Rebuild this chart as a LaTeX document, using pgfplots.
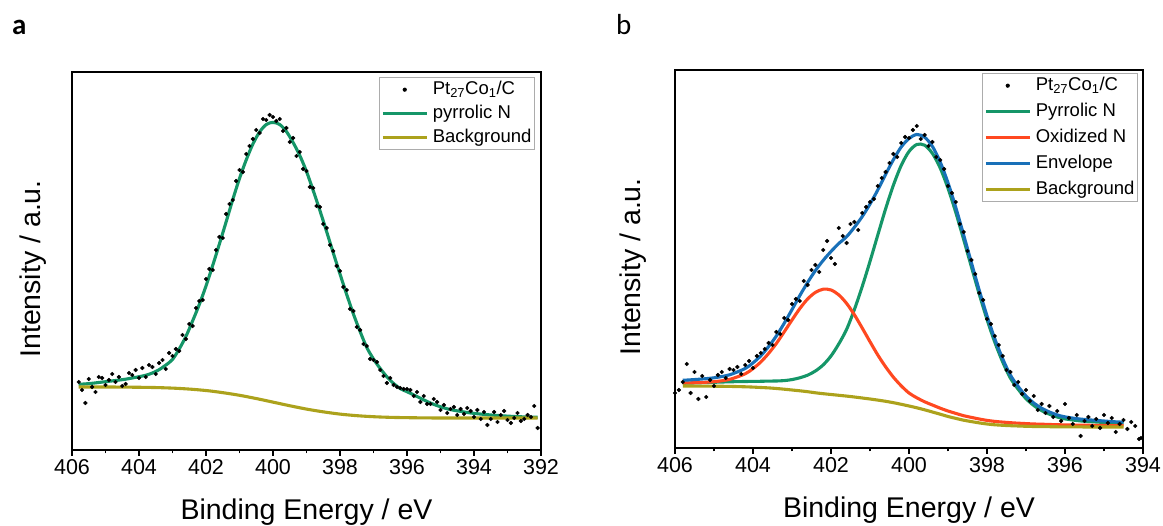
\documentclass[border=0pt]{standalone}
\usepackage{fontspec}
\setmainfont{Liberation Sans}
\newfontfamily\carlito{Carlito}
\usepackage{pgfplots}
\pgfplotsset{compat=1.18}
\definecolor{pgreen}{RGB}{21,150,104}
\definecolor{pred}{RGB}{255,72,32}
\definecolor{pblue}{RGB}{24,112,184}
\definecolor{polive}{RGB}{172,162,28}
\pgfplotsset{
  xps/.style={
    scale only axis, x dir=reverse, ymin=0, ymax=378,
    ytick=\empty, xtick distance=2, minor x tick num=1,
    tick align=outside, xtick pos=bottom,
    major tick length=6pt, minor tick length=3.5pt,
    every tick/.style={black, line width=1.2pt},
    axis line style={line width=1.3pt},
    /pgf/number format/assume math mode=true,
    xticklabel style={font=\fontsize{21.5}{24}\selectfont},
    label style={font=\fontsize{28.5}{32}\selectfont},
    xlabel={Binding Energy / eV},
    ylabel={Intensity / a.u.},
    legend cell align=left,
  },
  lin/.style={line width=3.1pt, smooth, legend image code/.code={\draw[##1] (0pt,0pt) -- (44pt,0pt);}},
  dots/.style={only marks, mark=*, mark size=1.9pt, black},
  dotleg/.style={legend image code/.code={\path[draw=none,fill=none] (0pt,-1pt) rectangle (44pt,1pt); \fill[black,draw=none] (22pt,0pt) circle (2.1pt);}},
  leg/.style={legend style={at={(1,1)}, anchor=north east, draw=gray!65, line width=0.9pt, fill=white,
     font=\fontsize{18.5}{22}\selectfont, inner xsep=1.5pt, inner ysep=2pt, column sep=3pt, row sep=#1,
     nodes={inner sep=1.5pt, text height=13.5pt, text depth=4pt}}},
}
\begin{document}
\begin{tikzpicture}
\path[use as bounding box] (0pt,0pt) rectangle (1163pt,526pt);
\node[anchor=base west, font=\carlito\bfseries\fontsize{29}{32}\selectfont, inner sep=0pt] at (12pt,491pt) {a};
\node[anchor=base west, font=\carlito\fontsize{29}{32}\selectfont, inner sep=0pt] at (616pt,491pt) {b};
% ---------------- panel a
\begin{axis}[xps, leg=3.5pt, at={(72pt,76pt)}, anchor=south west, width=469pt, height=378pt,
  xmin=392, xmax=406,
  legend style={xshift=-6pt, yshift=-5pt},
  xlabel style={at={(axis description cs:0.5,-0.1839)}, anchor=base},
  ylabel style={at={(axis description cs:-0.0832,0.479)}, anchor=center}]
\addlegendimage{dotleg}
\addlegendentry{Pt\textsubscript{27}Co\textsubscript{1}/C}
\addplot[lin, color=pgreen] coordinates {(405.8,65.7)(405.6,66.1)(405.4,66.7)(405.2,67.5)(405.0,68.3)(404.8,69.1)(404.6,69.9)(404.4,70.8)(404.2,72.0)(404.0,73.3)(403.8,74.7)(403.6,77.0)(403.4,80.3)(403.2,84.9)(403.0,90.5)(402.8,101)(402.6,113.5)(402.4,129)(402.2,145.5)(402.0,164)(401.8,184.5)(401.6,206)(401.4,228)(401.2,250.5)(401.0,271.5)(400.8,290)(400.6,306)(400.4,318)(400.2,325.5)(400.0,327.6)(399.8,325.5)(399.6,318.5)(399.4,307.5)(399.2,294.5)(399.0,278.5)(398.8,259.5)(398.6,239.5)(398.4,218.5)(398.2,197)(398.0,176)(397.8,155.5)(397.6,136)(397.4,118.5)(397.2,102.5)(397.0,91)(396.8,81.5)(396.6,73.2)(396.4,66.5)(396.2,61.4)(396.0,58.3)(395.8,55.1)(395.6,51.8)(395.4,48.5)(395.2,45.6)(395.0,43.2)(394.8,41.2)(394.6,39.7)(394.4,38.6)(394.2,37.5)(394.0,36.6)(393.6,35.3)(393.2,34.3)(392.8,33.5)(392.4,33.0)(392.1,32.7)};
\addlegendentry{pyrrolic N}
\addplot[lin, color=polive] coordinates {(405.8,63)(404.95,63)(403.95,62.7)(403.45,62.4)(402.95,61.8)(402.45,60.8)(401.95,59.3)(401.45,57.1)(400.95,54.4)(400.45,51.1)(399.95,47.5)(399.45,43.9)(398.95,40.6)(398.45,37.9)(397.95,35.7)(397.45,34.2)(396.95,33.2)(396.45,32.6)(395.95,32.3)(395.45,32.1)(394.95,32.0)(393.5,32.0)(392.1,32.0)};
\addlegendentry{Background}
\addplot[dots, forget plot] coordinates {(405.8,68)(405.7,60)(405.6,47)(405.5,71)(405.4,63)(405.3,58)(405.2,73)(405.1,72)(405.0,65)(404.9,70)(404.8,76)(404.7,68)(404.6,73)(404.5,64)(404.4,66)(404.3,77)(404.2,75)(404.1,80)(404.0,72)(403.9,82)(403.8,73)(403.7,85)(403.6,83)(403.5,76)(403.4,87)(403.3,90)(403.2,81)(403.1,97)(403.0,94)(402.9,101)(402.8,99)(402.7,115)(402.6,111)(402.5,126)(402.4,124)(402.3,142)(402.2,149)(402.1,150)(402.0,171)(401.9,181)(401.8,180)(401.7,200)(401.6,213)(401.5,212)(401.4,236)(401.3,246)(401.2,250)(401.1,269)(401.0,280)(400.9,278)(400.8,296)(400.7,304)(400.6,311)(400.5,320)(400.4,317)(400.3,331)(400.2,330)(400.1,335)(400.0,333)(399.9,329)(399.8,331)(399.7,319)(399.6,322)(399.5,308)(399.4,312)(399.3,294)(399.2,298)(399.1,281)(399.0,279)(398.9,263)(398.8,262)(398.7,244)(398.6,243)(398.5,226)(398.4,222)(398.3,205)(398.2,199)(398.1,184)(398.0,179)(397.9,163)(397.8,160)(397.7,141)(397.6,139)(397.5,123)(397.4,120)(397.3,106)(397.2,104)(397.1,91)(397.0,90)(396.9,88)(396.8,80)(396.7,74)(396.6,67)(396.5,72)(396.4,65)(396.3,63)(396.2,62)(396.1,61)(396.0,61)(395.9,60)(395.8,54)(395.7,58)(395.6,48)(395.5,54)(395.4,46)(395.3,46)(395.2,51)(395.1,48)(395.0,40)(394.9,45)(394.8,37)(394.7,41)(394.6,43)(394.5,35)(394.4,41)(394.3,36)(394.2,42)(394.1,39)(394.0,33)(393.9,40)(393.8,31)(393.7,38)(393.6,25)(393.5,31)(393.4,38)(393.3,28)(393.2,35)(393.1,39)(393.0,30)(392.9,27)(392.8,32)(392.7,37)(392.6,29)(392.5,31)(392.4,35)(392.3,33)(392.2,44)(392.1,22)};
\end{axis}
% ---------------- panel b
\begin{axis}[xps, leg=5.5pt, at={(675pt,78pt)}, anchor=south west, width=468pt, height=378pt,
  xmin=394, xmax=406,
  legend style={xshift=-5pt, yshift=-3pt},
  xlabel style={at={(axis description cs:0.5,-0.1839)}, anchor=base},
  ylabel style={at={(axis description cs:-0.0897,0.479)}, anchor=center}]
\addlegendimage{dotleg}
\addlegendentry{Pt\textsubscript{27}Co\textsubscript{1}/C}
\addplot[lin, color=pgreen] coordinates {(405.8,64.7)(405.4,65.2)(405.0,65.7)(404.6,66.2)(404.2,66.5)(404.0,66.6)(403.8,66.7)(403.6,66.9)(403.4,67.0)(403.2,67.4)(403.0,68.4)(402.8,70.2)(402.6,72.8)(402.4,77.0)(402.2,83.1)(402.0,92.0)(401.8,104.1)(401.6,118.6)(401.4,138.5)(401.2,161.4)(401.0,186.6)(400.8,213.0)(400.6,239.1)(400.4,262.8)(400.2,282.5)(400.0,296.5)(399.8,303.5)(399.6,302.8)(399.4,294.6)(399.2,280.0)(399.0,259.7)(398.8,235.5)(398.6,208.7)(398.4,181.2)(398.2,154.0)(398.0,128.6)(397.8,105.8)(397.6,86.2)(397.4,69.9)(397.2,58.7)(397.0,49.3)(396.8,42.5)(396.6,37.4)(396.4,33.8)(396.2,31.0)(396.0,29.1)(395.6,27.05)(395.2,26.0)(394.8,25.0)(394.5,24.5)};
\addlegendentry{Pyrrolic N}
\addplot[lin, color=pred] coordinates {(405.8,65.0)(405.4,65.4)(405.0,66.3)(404.6,68.6)(404.2,74.2)(404.0,79.4)(403.8,86.0)(403.6,94.6)(403.4,104.6)(403.2,116.1)(403.0,128.0)(402.8,139.4)(402.6,149.0)(402.4,155.6)(402.2,158.8)(402.0,158.0)(401.8,153.1)(401.6,144.6)(401.4,133.2)(401.2,120.0)(401.0,106.3)(400.8,93.0)(400.6,81.2)(400.4,70.8)(400.2,62.2)(400.0,55.0)(399.8,50.2)(399.6,46.2)(399.4,43.0)(399.2,39.8)(399.0,37.0)(398.8,34.6)(398.6,32.3)(398.4,30.6)(398.2,29.0)(398.0,27.6)(397.8,26.6)(397.6,25.9)(397.4,25.3)(397.2,24.8)(397.0,24.4)(396.8,24.0)(396.6,23.8)(396.4,23.5)(396.2,23.3)(396.0,23.1)(395.6,22.85)(395.2,22.6)(394.8,22.4)(394.5,22.3)};
\addlegendentry{Oxidized N}
\addplot[lin, color=polive, forget plot] coordinates {(405.8,62.0)(405.4,61.9)(405.0,61.8)(404.6,61.6)(404.2,61.2)(404.0,60.9)(403.8,60.5)(403.6,60.1)(403.4,59.5)(403.2,58.8)(403.0,58.0)(402.8,57.2)(402.6,56.3)(402.4,55.2)(402.2,54.3)(402.0,53.5)(401.8,52.7)(401.6,51.9)(401.4,51.0)(401.2,50.0)(401.0,49.0)(400.8,47.9)(400.6,46.7)(400.4,45.3)(400.2,43.7)(400.0,42.0)(399.8,40.2)(399.6,38.2)(399.4,36.0)(399.2,33.8)(399.0,31.5)(398.8,29.6)(398.6,27.8)(398.4,26.4)(398.2,25.1)(398.0,24.0)(397.8,23.2)(397.6,22.7)(397.4,22.3)(397.2,22.0)(397.0,21.7)(396.8,21.5)(396.6,21.4)(396.4,21.3)(396.2,21.2)(396.0,21.1)(395.6,21.05)(395.2,21.0)(394.8,21.0)(394.5,21.0)};
\addplot[lin, color=pblue] coordinates {(405.8,67.7)(405.4,68.7)(405.0,70.2)(404.6,73.2)(404.2,79.5)(404.0,85.1)(403.8,92.2)(403.6,101.4)(403.4,112.1)(403.2,124.7)(403.0,138.4)(402.8,152.4)(402.6,165.5)(402.4,177.4)(402.2,187.6)(402.0,196.5)(401.8,204.5)(401.6,211.3)(401.4,220.7)(401.2,231.4)(401.0,243.9)(400.8,258.1)(400.6,273.6)(400.4,288.3)(400.2,301.0)(400.0,309.5)(399.8,313.5)(399.6,310.8)(399.4,301.6)(399.2,286.0)(399.0,265.2)(398.8,240.5)(398.6,213.2)(398.4,185.4)(398.2,157.9)(398.0,132.2)(397.8,109.2)(397.6,89.4)(397.4,72.9)(397.2,61.5)(397.0,52.0)(396.8,45.0)(396.6,39.8)(396.4,36.0)(396.2,33.1)(396.0,31.1)(395.6,28.9)(395.2,27.6)(394.8,26.4)(394.5,25.8)};
\addlegendentry{Envelope}
\addlegendimage{lin, color=polive}
\addlegendentry{Background}
\addplot[dots, forget plot] coordinates {(406.0,55)(405.9,58)(405.8,66)(405.7,84)(405.6,55)(405.5,76)(405.4,49)(405.3,72)(405.2,51)(405.1,68)(405.0,62)(404.9,73)(404.8,76)(404.7,70)(404.6,79)(404.5,78)(404.4,81)(404.3,74)(404.2,83)(404.1,87)(404.0,80)(403.9,92)(403.8,95)(403.7,99)(403.6,105)(403.5,103)(403.4,116)(403.3,114)(403.2,130)(403.1,128)(403.0,144)(402.9,149)(402.8,147)(402.7,167)(402.6,163)(402.5,178)(402.4,183)(402.3,176)(402.2,198)(402.1,207)(402.0,190)(401.9,184)(401.8,220)(401.7,212)(401.6,205)(401.5,224)(401.4,226)(401.3,218)(401.2,235)(401.1,241)(401.0,246)(400.9,249)(400.8,262)(400.7,270)(400.6,276)(400.5,285)(400.4,294)(400.3,291)(400.2,305)(400.1,311)(400.0,310)(399.9,318)(399.8,322)(399.7,309)(399.6,313)(399.5,302)(399.4,306)(399.3,291)(399.2,288)(399.1,279)(399.0,262)(398.9,255)(398.8,246)(398.7,224)(398.6,216)(398.5,197)(398.4,188)(398.3,174)(398.2,155)(398.1,148)(398.0,129)(397.9,124)(397.8,112)(397.7,103)(397.6,92)(397.5,78)(397.4,76)(397.3,63)(397.2,66)(397.1,54)(397.0,58)(396.9,47)(396.8,52)(396.7,38)(396.6,44)(396.5,35)(396.4,42)(396.3,31)(396.2,37)(396.1,27)(396.0,44)(395.9,30)(395.8,24)(395.7,33)(395.6,12)(395.5,27)(395.4,31)(395.3,22)(395.2,29)(395.1,20)(395.0,33)(394.9,25)(394.8,30)(394.7,16)(394.6,24)(394.5,28)(394.4,19)(394.3,26)(394.2,22)(394.1,9)(394.05,10)};
\end{axis}
\end{tikzpicture}
\end{document}
